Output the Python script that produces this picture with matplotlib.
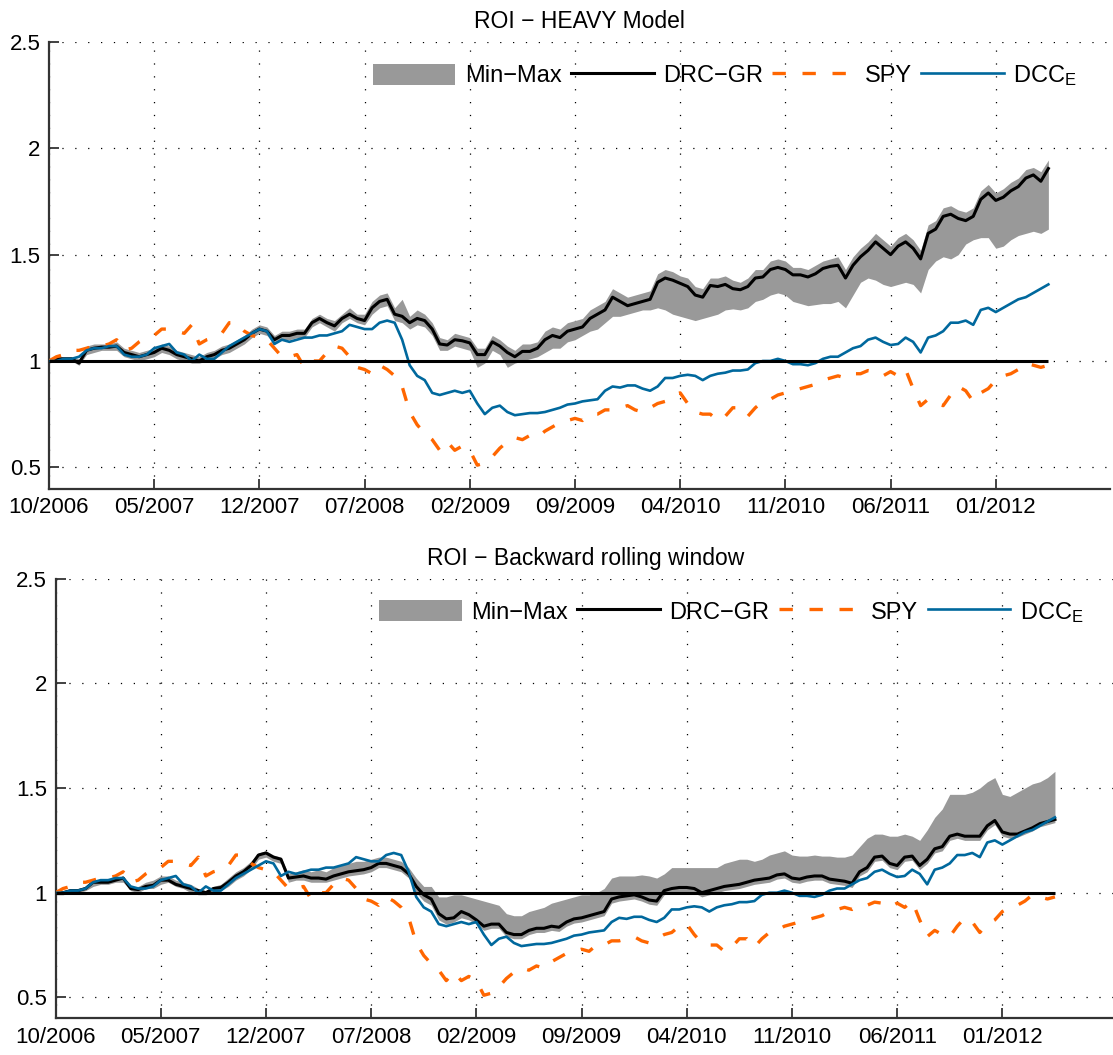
import numpy as np
import matplotlib.pyplot as plt
from matplotlib.patches import Patch
from matplotlib.lines import Line2D

plt.rcParams['font.family'] = ['Liberation Sans', 'DejaVu Sans']
plt.rcParams['mathtext.fontset'] = 'custom'
plt.rcParams['mathtext.rm'] = 'Liberation Sans'
plt.rcParams['mathtext.it'] = 'Liberation Sans:italic'

# time axis: months since 10/2006, half-month steps
months = np.arange(134) * 0.5
tick_pos = [0, 7, 14, 21, 28, 35, 42, 49, 56, 63]
tick_labels = ['10/2006', '05/2007', '12/2007', '07/2008', '02/2009',
               '09/2009', '04/2010', '11/2010', '06/2011', '01/2012']

spy = [1.00, 1.02, 1.03, 1.05, 1.05, 1.06, 1.07, 1.07, 1.08, 1.10,
       1.05, 1.06, 1.09, 1.11, 1.12, 1.15, 1.15, 1.14, 1.13, 1.17,
       1.08, 1.10, 1.11, 1.13, 1.18, 1.18, 1.14, 1.12, 1.11, 1.10,
       1.06, 1.02, 1.02, 1.03, 0.97, 1.00, 1.00, 1.04, 1.07, 1.06,
       1.02, 0.97, 0.96, 0.94, 0.98, 0.96, 0.93, 0.88, 0.76, 0.70,
       0.66, 0.63, 0.58, 0.62, 0.58, 0.60, 0.58, 0.51, 0.52, 0.55,
       0.59, 0.62, 0.64, 0.63, 0.65, 0.64, 0.67, 0.69, 0.71, 0.72,
       0.73, 0.72, 0.75, 0.75, 0.77, 0.77, 0.78, 0.79, 0.77, 0.76,
       0.78, 0.80, 0.81, 0.84, 0.85, 0.80, 0.76, 0.75, 0.75, 0.72,
       0.74, 0.78, 0.78, 0.74, 0.78, 0.81, 0.82, 0.84, 0.85, 0.86,
       0.87, 0.88, 0.89, 0.91, 0.92, 0.93, 0.92, 0.94, 0.94, 0.955,
       0.95, 0.93, 0.95, 0.93, 0.96, 0.87, 0.79, 0.82, 0.80, 0.79,
       0.84, 0.88, 0.86, 0.81, 0.85, 0.87, 0.91, 0.93, 0.94, 0.96,
       0.99, 0.98, 0.97, 0.98]

dcc = [1.00, 1.00, 1.01, 1.01, 1.02, 1.05, 1.06, 1.06, 1.07, 1.07,
       1.03, 1.02, 1.02, 1.03, 1.06, 1.07, 1.08, 1.04, 1.03, 1.00,
       1.03, 1.01, 1.01, 1.04, 1.07, 1.09, 1.11, 1.13, 1.15, 1.14,
       1.08, 1.10, 1.09, 1.10, 1.11, 1.11, 1.12, 1.12, 1.13, 1.14,
       1.17, 1.16, 1.15, 1.15, 1.18, 1.19, 1.18, 1.10, 0.98, 0.93,
       0.91, 0.85, 0.84, 0.85, 0.86, 0.85, 0.86, 0.80, 0.75, 0.78,
       0.79, 0.76, 0.745, 0.75, 0.755, 0.755, 0.76, 0.77, 0.78, 0.795,
       0.80, 0.81, 0.815, 0.82, 0.86, 0.88, 0.875, 0.885, 0.885, 0.87,
       0.86, 0.88, 0.92, 0.92, 0.93, 0.935, 0.93, 0.91, 0.93, 0.94,
       0.945, 0.955, 0.955, 0.96, 0.99, 1.00, 1.00, 1.01, 1.00, 0.985,
       0.985, 0.98, 0.99, 1.01, 1.02, 1.02, 1.04, 1.06, 1.07, 1.10,
       1.11, 1.09, 1.075, 1.08, 1.11, 1.09, 1.04, 1.11, 1.12, 1.14,
       1.18, 1.18, 1.19, 1.17, 1.24, 1.25, 1.23, 1.25, 1.27, 1.29,
       1.30, 1.32, 1.34, 1.36]

# HEAVY model panel
heavy_drc = [1.00, 1.01, 1.01, 1.01, 0.99, 1.05, 1.06, 1.065, 1.065, 1.07,
             1.04, 1.03, 1.02, 1.03, 1.04, 1.06, 1.05, 1.03, 1.02, 1.01,
             1.00, 1.02, 1.03, 1.05, 1.06, 1.08, 1.10, 1.13, 1.15, 1.14,
             1.10, 1.12, 1.12, 1.13, 1.13, 1.18, 1.20, 1.18, 1.165, 1.20,
             1.22, 1.20, 1.19, 1.25, 1.28, 1.29, 1.22, 1.21, 1.18, 1.20,
             1.19, 1.15, 1.08, 1.075, 1.10, 1.095, 1.085, 1.03, 1.03, 1.09,
             1.07, 1.04, 1.02, 1.045, 1.045, 1.06, 1.10, 1.12, 1.11, 1.14,
             1.15, 1.16, 1.20, 1.22, 1.24, 1.30, 1.28, 1.26, 1.27, 1.28,
             1.29, 1.37, 1.39, 1.38, 1.365, 1.35, 1.31, 1.30, 1.355, 1.35,
             1.36, 1.34, 1.335, 1.35, 1.39, 1.395, 1.43, 1.44, 1.43, 1.405,
             1.405, 1.395, 1.41, 1.435, 1.445, 1.45, 1.39, 1.45, 1.49, 1.52,
             1.56, 1.53, 1.50, 1.54, 1.56, 1.53, 1.48, 1.60, 1.62, 1.68,
             1.69, 1.67, 1.66, 1.68, 1.76, 1.79, 1.755, 1.77, 1.80, 1.82,
             1.86, 1.875, 1.845, 1.905]

heavy_max = [1.01, 1.02, 1.02, 1.02, 1.01, 1.07, 1.08, 1.08, 1.08, 1.09,
             1.06, 1.05, 1.04, 1.05, 1.06, 1.08, 1.07, 1.05, 1.04, 1.03,
             1.02, 1.04, 1.05, 1.07, 1.08, 1.10, 1.12, 1.15, 1.17, 1.16,
             1.12, 1.14, 1.14, 1.15, 1.15, 1.20, 1.22, 1.20, 1.19, 1.22,
             1.25, 1.22, 1.22, 1.28, 1.31, 1.32, 1.25, 1.29, 1.21, 1.24,
             1.22, 1.18, 1.11, 1.10, 1.13, 1.12, 1.11, 1.06, 1.06, 1.12,
             1.10, 1.07, 1.05, 1.08, 1.08, 1.09, 1.14, 1.16, 1.15, 1.18,
             1.19, 1.20, 1.24, 1.26, 1.28, 1.34, 1.32, 1.30, 1.31, 1.32,
             1.33, 1.41, 1.43, 1.42, 1.40, 1.39, 1.35, 1.34, 1.39, 1.39,
             1.40, 1.38, 1.37, 1.39, 1.43, 1.43, 1.47, 1.48, 1.47, 1.44,
             1.44, 1.43, 1.45, 1.47, 1.48, 1.49, 1.43, 1.49, 1.53, 1.56,
             1.60, 1.57, 1.54, 1.58, 1.60, 1.57, 1.52, 1.64, 1.66, 1.72,
             1.73, 1.71, 1.70, 1.72, 1.80, 1.83, 1.79, 1.81, 1.84, 1.86,
             1.90, 1.91, 1.89, 1.945]

heavy_min = [0.99, 1.00, 1.00, 1.00, 0.98, 1.03, 1.04, 1.05, 1.05, 1.05,
             1.02, 1.01, 1.00, 1.01, 1.02, 1.04, 1.03, 1.01, 1.00, 0.99,
             0.99, 1.00, 1.01, 1.03, 1.04, 1.06, 1.08, 1.11, 1.13, 1.12,
             1.08, 1.10, 1.10, 1.11, 1.11, 1.16, 1.18, 1.16, 1.14, 1.18,
             1.20, 1.18, 1.17, 1.22, 1.25, 1.26, 1.19, 1.18, 1.15, 1.17,
             1.16, 1.12, 1.05, 1.05, 1.07, 1.06, 1.05, 0.97, 0.99, 1.05,
             1.03, 0.97, 0.99, 1.00, 1.01, 1.02, 1.04, 1.06, 1.06, 1.09,
             1.10, 1.12, 1.14, 1.15, 1.18, 1.21, 1.21, 1.22, 1.23, 1.24,
             1.24, 1.25, 1.24, 1.22, 1.21, 1.20, 1.19, 1.20, 1.21, 1.22,
             1.24, 1.245, 1.24, 1.25, 1.28, 1.29, 1.31, 1.32, 1.31, 1.28,
             1.27, 1.26, 1.265, 1.27, 1.27, 1.28, 1.25, 1.31, 1.37, 1.39,
             1.38, 1.36, 1.35, 1.36, 1.37, 1.36, 1.32, 1.43, 1.47, 1.49,
             1.48, 1.50, 1.55, 1.57, 1.58, 1.58, 1.53, 1.54, 1.57, 1.59,
             1.60, 1.61, 1.60, 1.62]

# backward rolling window panel
roll_drc = [1.00, 1.00, 1.01, 1.01, 1.02, 1.05, 1.05, 1.05, 1.06, 1.07,
            1.02, 1.015, 1.03, 1.035, 1.06, 1.06, 1.04, 1.03, 1.02, 1.01,
            1.00, 1.02, 1.025, 1.05, 1.08, 1.10, 1.13, 1.18, 1.19, 1.17,
            1.16, 1.07, 1.075, 1.08, 1.07, 1.07, 1.065, 1.08, 1.09, 1.10,
            1.105, 1.11, 1.12, 1.14, 1.14, 1.13, 1.12, 1.09, 1.03, 0.99,
            0.97, 0.90, 0.875, 0.88, 0.91, 0.895, 0.87, 0.84, 0.85, 0.85,
            0.81, 0.80, 0.80, 0.82, 0.83, 0.83, 0.84, 0.835, 0.86, 0.875,
            0.88, 0.89, 0.90, 0.91, 0.97, 0.98, 0.985, 0.99, 0.98, 0.965,
            0.96, 1.01, 1.02, 1.025, 1.025, 1.02, 1.00, 1.01, 1.02, 1.03,
            1.035, 1.04, 1.05, 1.06, 1.065, 1.07, 1.085, 1.09, 1.07, 1.065,
            1.075, 1.08, 1.08, 1.065, 1.06, 1.055, 1.045, 1.10, 1.12, 1.17,
            1.175, 1.14, 1.13, 1.17, 1.175, 1.13, 1.16, 1.21, 1.22, 1.27,
            1.28, 1.27, 1.27, 1.27, 1.32, 1.345, 1.29, 1.28, 1.28, 1.295,
            1.31, 1.33, 1.34, 1.35]

roll_max = [1.01, 1.01, 1.02, 1.02, 1.03, 1.06, 1.06, 1.06, 1.07, 1.08,
            1.03, 1.03, 1.05, 1.06, 1.08, 1.08, 1.06, 1.05, 1.04, 1.02,
            1.01, 1.03, 1.04, 1.07, 1.10, 1.12, 1.15, 1.19, 1.20, 1.18,
            1.17, 1.09, 1.10, 1.11, 1.10, 1.11, 1.10, 1.12, 1.13, 1.14,
            1.15, 1.15, 1.16, 1.17, 1.17, 1.16, 1.15, 1.12, 1.07, 1.03,
            1.03, 0.98, 0.98, 0.99, 0.99, 0.98, 0.97, 0.96, 0.95, 0.94,
            0.90, 0.89, 0.89, 0.91, 0.92, 0.93, 0.95, 0.96, 0.97, 0.98,
            0.99, 0.99, 1.00, 1.02, 1.07, 1.08, 1.08, 1.08, 1.085, 1.08,
            1.07, 1.09, 1.12, 1.12, 1.12, 1.12, 1.12, 1.12, 1.12, 1.14,
            1.15, 1.16, 1.16, 1.15, 1.16, 1.18, 1.19, 1.20, 1.18, 1.175,
            1.175, 1.18, 1.175, 1.175, 1.17, 1.17, 1.18, 1.22, 1.26, 1.28,
            1.28, 1.27, 1.27, 1.28, 1.27, 1.25, 1.30, 1.36, 1.40, 1.47,
            1.47, 1.47, 1.48, 1.50, 1.53, 1.55, 1.47, 1.46, 1.48, 1.50,
            1.52, 1.53, 1.55, 1.58]

roll_min = [0.99, 0.99, 1.00, 1.00, 1.01, 1.03, 1.04, 1.04, 1.05, 1.05,
            1.01, 1.00, 1.02, 1.02, 1.04, 1.05, 1.03, 1.02, 1.00, 0.99,
            0.99, 1.00, 1.01, 1.03, 1.06, 1.08, 1.11, 1.16, 1.17, 1.15,
            1.14, 1.05, 1.06, 1.06, 1.05, 1.05, 1.05, 1.06, 1.07, 1.08,
            1.085, 1.09, 1.10, 1.12, 1.12, 1.11, 1.10, 1.07, 1.00, 0.96,
            0.94, 0.87, 0.85, 0.86, 0.88, 0.87, 0.85, 0.82, 0.83, 0.83,
            0.79, 0.78, 0.78, 0.80, 0.81, 0.81, 0.82, 0.815, 0.84, 0.855,
            0.86, 0.87, 0.88, 0.89, 0.95, 0.96, 0.965, 0.97, 0.96, 0.945,
            0.94, 0.99, 1.00, 1.005, 1.005, 1.00, 0.98, 0.99, 1.00, 1.01,
            1.015, 1.02, 1.03, 1.04, 1.045, 1.05, 1.065, 1.07, 1.05, 1.045,
            1.055, 1.06, 1.06, 1.045, 1.04, 1.035, 1.025, 1.08, 1.10, 1.15,
            1.155, 1.12, 1.11, 1.15, 1.155, 1.11, 1.14, 1.19, 1.20, 1.25,
            1.26, 1.25, 1.25, 1.25, 1.30, 1.325, 1.27, 1.26, 1.265, 1.28,
            1.295, 1.315, 1.325, 1.335]

gray = '#999999'
orange = '#ff6600'
blue = '#00689d'


def draw_panel(ax, lo, hi, drc, title):
    ax.fill_between(months, lo, hi, color=gray, lw=0, zorder=2)
    ax.plot(months, drc, color='k', lw=2.2, zorder=3)
    ax.plot(months, spy, color=orange, lw=2.4, dashes=(4, 5), zorder=3)
    ax.plot(months, dcc, color=blue, lw=1.9, zorder=4)
    ax.hlines(1, months[0], months[-1], color='k', lw=2.2, zorder=5)

    ax.set_xlim(0, 70.6)
    ax.set_ylim(0.4, 2.5)
    ax.set_xticks(tick_pos)
    ax.set_xticklabels(tick_labels)
    ax.set_yticks([0.5, 1, 1.5, 2, 2.5])
    ax.set_yticklabels(['0.5', '1', '1.5', '2', '2.5'])
    ax.grid(True, color='k', lw=0.9, linestyle=(0, (1, 9.3)))
    ax.set_axisbelow(True)
    for s in ['top', 'right']:
        ax.spines[s].set_visible(False)
    for s in ['left', 'bottom']:
        ax.spines[s].set_color('#333333')
        ax.spines[s].set_linewidth(1.6)
    ax.tick_params(direction='in', length=7, width=1.3, labelsize=16,
                   pad=6, color='#333333', top=False, right=False)
    ax.set_title(title, fontsize=16.5, pad=10)

    handles = [Patch(facecolor=gray, edgecolor='none'),
               Line2D([], [], color='k', lw=2.2),
               Line2D([], [], color=orange, lw=2.4, dashes=(4, 5)),
               Line2D([], [], color=blue, lw=1.9)]
    labels = ['Min\u2212Max', 'DRC\u2212GR', 'SPY', r'DCC$_\mathrm{E}$']
    ax.legend(handles, labels, ncol=4, frameon=False, loc='center left',
              bbox_to_anchor=(0.305, 0.924), fontsize=17, handlelength=3.5,
              handleheight=1.0, handletextpad=0.4, columnspacing=0.4,
              borderaxespad=0, borderpad=0)


fig = plt.figure(figsize=(11.13, 10.55), dpi=100)
ax_top = fig.add_axes([0.0440, 0.5369, 0.9533, 0.4233])
ax_bot = fig.add_axes([0.0499, 0.0348, 0.9533, 0.4166])

draw_panel(ax_top, heavy_min, heavy_max, heavy_drc, 'ROI \u2212 HEAVY Model')
draw_panel(ax_bot, roll_min, roll_max, roll_drc, 'ROI \u2212 Backward rolling window')

fig.savefig('out.png', dpi=100)
